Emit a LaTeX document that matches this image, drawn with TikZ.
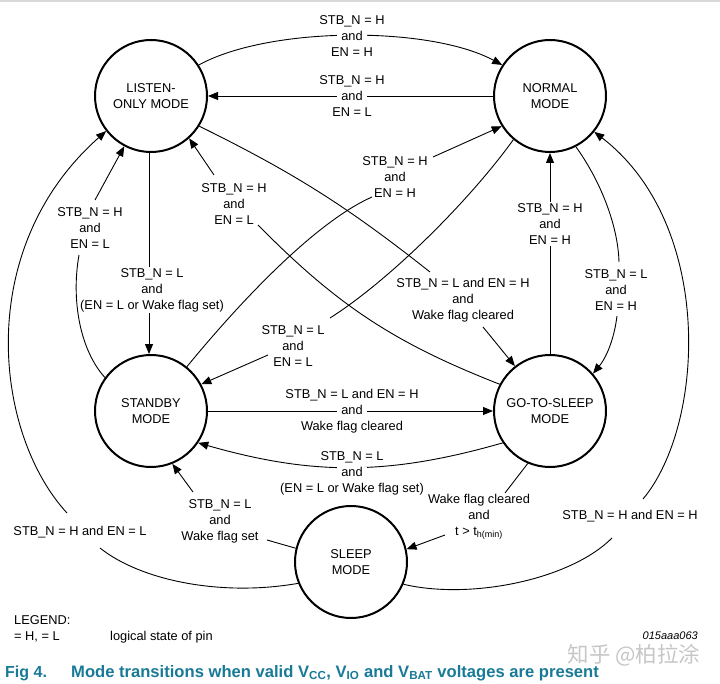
\documentclass[tikz,border=0pt]{standalone}
\usepackage{fontspec}
\setmainfont{Liberation Sans}
\newfontfamily\cjkfont{Noto Sans CJK SC}
\usetikzlibrary{arrows.meta}
\pgfdeclarelayer{bg}
\pgfsetlayers{bg,main}
\definecolor{capblue}{RGB}{24,122,150}
\newcommand{\gapand}{{\setlength{\fboxsep}{0pt}\colorbox{white}{\rule[-3pt]{0pt}{12pt}\hspace{4pt}and\hspace{4pt}}}}
\begin{document}
\begin{tikzpicture}[x=1pt,y=-1pt,
  mode/.style={circle, draw, line width=2pt, minimum size=112pt, inner sep=0pt, align=center, font=\fontsize{12.8}{15.5}\selectfont},
  lab/.style={align=center, inner sep=1.5pt, font=\fontsize{12.8}{16}\selectfont},
  conn/.style={line width=0.9pt},
  arr/.style={conn, -{Triangle[length=10pt,width=8pt]}},
  legend/.style={anchor=base west, inner sep=0pt, font=\fontsize{12.8}{16}\selectfont},
]
\useasboundingbox (0,0) rectangle (720,684);
\fill[gray!30] (0,0) rectangle (720,2);

% modes
\node[mode] (L) at (151,96) {LISTEN-\\ONLY MODE};
\node[mode] (N) at (550,96) {NORMAL\\MODE};
\node[mode] (S) at (151,411) {STANDBY\\MODE};
\node[mode] (G) at (550,411) {GO-TO-SLEEP\\MODE};
\node[mode] (Z) at (351,562) {SLEEP\\MODE};

% labels
\node[lab] (l1) at (352,36) {STB\_N = H\\\gapand\\EN = H};
\node[lab] (l2) at (352,96) {STB\_N = H\\\gapand\\EN = L};
\node[lab] (l3) at (463,300) {STB\_N = L and EN = H\\and\\Wake flag cleared};
\node[lab] (l4) at (234,204) {STB\_N = H\\and\\EN = L};
\node[lab] (l5) at (395,177) {STB\_N = H\\and\\EN = H};
\node[lab] (l6) at (293,346) {STB\_N = L\\and\\EN = L};
\node[lab] (l7) at (152,290) {STB\_N = L\\and\\(EN = L or Wake flag set)};
\node[lab] (l8) at (90,228) {STB\_N = H\\and\\EN = L};
\node[lab] (l9) at (80,532) {STB\_N = H and EN = L};
\node[lab] (l10) at (630,516) {STB\_N = H and EN = H};
\node[lab] (l11) at (616,290) {STB\_N = L\\and\\EN = H};
\node[lab] (l12) at (550,224) {STB\_N = H\\and\\EN = H};
\node[lab] (l13) at (352,411) {STB\_N = L and EN = H\\\gapand\\Wake flag cleared};
\node[lab] (l14) at (352,473) {STB\_N = L\\\gapand\\(EN = L or Wake flag set)};
\node[lab] (l15) at (220,521) {STB\_N = L\\and\\Wake flag set};
\node[lab] (l16) at (479,517) {Wake flag cleared\\and\\t {>} t\textsubscript{h(min)}};

% connector waypoints next to labels
\coordinate (c3a) at (430,272);  \coordinate (c3b) at (483,327);
\coordinate (c4a) at (258,225);  \coordinate (c4b) at (214,175);
\coordinate (c5a) at (372,197);  \coordinate (c5b) at (433,157);
\coordinate (c6a) at (330,318);  \coordinate (c6b) at (268,355);
\coordinate (c8a) at (79,255);   \coordinate (c8b) at (95,200);
\coordinate (c9a) at (100,548);  \coordinate (c9b) at (67,513);
\coordinate (c10a) at (612,538); \coordinate (c10b) at (643,499);
\coordinate (c11a) at (619,262); \coordinate (c11b) at (617,316);
\coordinate (c15a) at (267,540); \coordinate (c15b) at (193,492);
\coordinate (c16a) at (505,493); \coordinate (c16b) at (445,535);

\begin{pgfonlayer}{bg}
% LISTEN -> NORMAL
\draw[arr] (L.33) .. controls (270,26) and (430,26) .. (N.147);
% NORMAL -> LISTEN
\draw[arr] (N.180) -- (L.0);
% LISTEN -> GO-TO-SLEEP
\draw[conn] (L.-32) to[bend left=6] (c3a);
\draw[arr] (c3b) -- (G.128);
% GO-TO-SLEEP -> LISTEN
\draw[conn] (G.152) to[bend left=12] (c4a);
\draw[arr] (c4b) -- (L.-48);
% STANDBY -> NORMAL
\draw[conn] (S.51) .. controls (250,290) and (320,220) .. (c5a);
\draw[arr] (c5b) -- (N.-148);
% NORMAL -> STANDBY
\draw[conn] (N.-130) .. controls (470,200) and (390,280) .. (c6a);
\draw[arr] (c6b) -- (S.28);
% LISTEN -> STANDBY
\draw[conn] (L.-92) -- (L.-92 |- l7.north);
\draw[arr] (L.-92 |- l7.south) -- (S.92);
% STANDBY -> LISTEN
\draw[conn] (S.144) .. controls (80,350) and (71,300) .. (c8a);
\draw[arr] (c8b) -- (L.-118);
% SLEEP -> LISTEN
\draw[conn] (Z.202) .. controls (220,597) and (140,580) .. (c9a);
\draw[arr] (c9b) .. controls (-5,435) and (-28,250) .. (L.218);
% SLEEP -> NORMAL
\draw[conn] (Z.-23) .. controls (470,600) and (570,580) .. (c10a);
\draw[arr] (c10b) .. controls (705,425) and (715,225) .. (N.-39);
% NORMAL -> GO-TO-SLEEP
\draw[conn] (N.-63) .. controls (600,180) and (618,225) .. (c11a);
\draw[arr] (c11b) .. controls (614,340) and (606,358) .. (G.41);
% GO-TO-SLEEP -> NORMAL
\draw[conn] (G.90) -- (G.90 |- l12.south);
\draw[arr] (G.90 |- l12.north) -- (N.-90);
% STANDBY -> GO-TO-SLEEP
\draw[arr] (S.0) -- (G.180);
% GO-TO-SLEEP -> STANDBY
\draw[arr] (G.214) to[bend left=16] (S.-34);
% SLEEP -> STANDBY
\draw[conn] (Z.166) -- (c15a);
\draw[arr] (c15b) -- (S.-68);
% GO-TO-SLEEP -> SLEEP
\draw[conn] (G.247) -- (c16a);
\draw[arr] (c16b) -- (Z.13);
\end{pgfonlayer}

% legend and caption
\node[legend] (leg1) at (14,624) {LEGEND:};
\node[legend] (leg2) at (14,640) {= H, = L};
\node[legend] (leg3) at (110,640) {logical state of pin};
\node[anchor=base east, inner sep=0pt, font=\fontsize{11}{13}\selectfont\itshape] (code) at (698,639) {015aaa063};
\node[anchor=center, inner sep=0pt, text=gray!45, font=\cjkfont\fontsize{21.5}{25}\selectfont] (wm) at (634,655) {知乎 @柏拉涂};
\node[anchor=base west, inner sep=0pt, text=capblue, font=\fontsize{16}{19}\selectfont\bfseries] (fig) at (5,677) {Fig 4.};
\node[anchor=base west, inner sep=0pt, text=capblue, font=\fontsize{16.6}{19}\selectfont\bfseries] (cap) at (71,677) {Mode transitions when valid V\textsubscript{CC}, V\textsubscript{IO} and V\textsubscript{BAT} voltages are present};
\end{tikzpicture}
\end{document}
